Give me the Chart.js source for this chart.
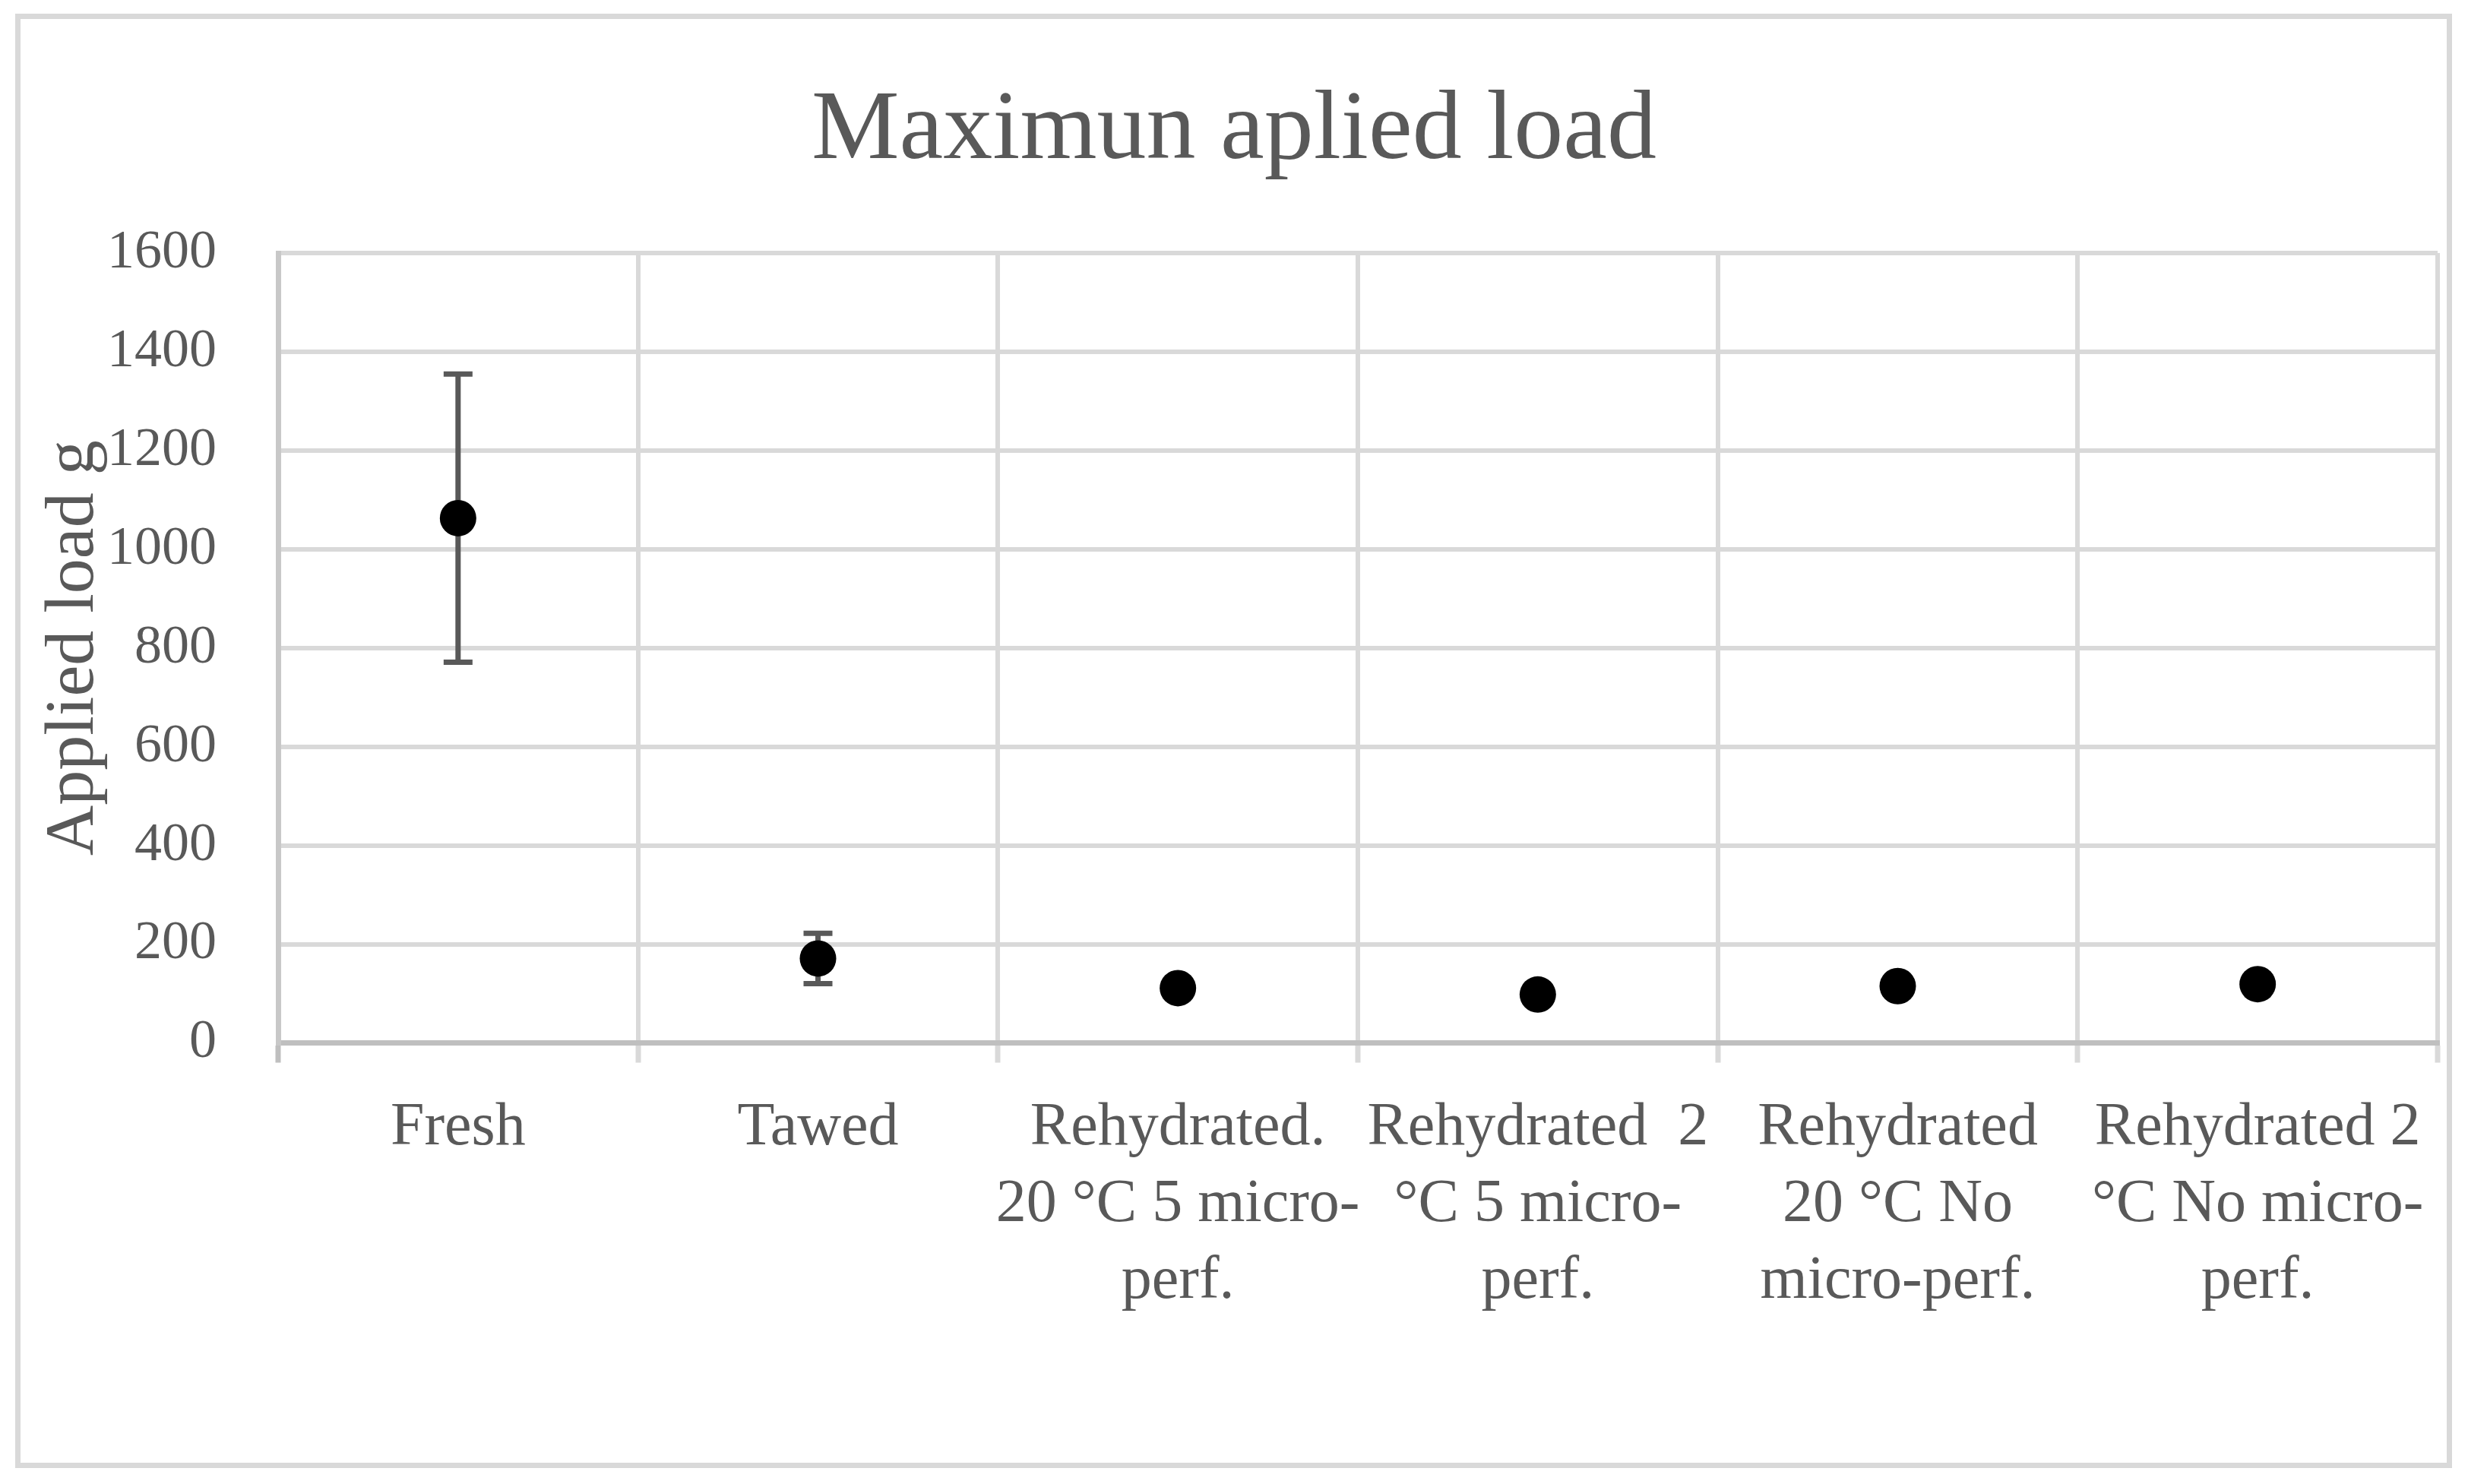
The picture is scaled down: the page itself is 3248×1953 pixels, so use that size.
<!DOCTYPE html>
<html>
<head>
<meta charset="utf-8">
<script src="https://cdn.jsdelivr.net/npm/chart.js@4"></script>
<style>
  html, body { margin: 0; padding: 0; background: #fff; }
  #wrap { position: absolute; left: 0; top: 0; width: 3248px; height: 1953px; }
  #frame { position: absolute; left: 20px; top: 18px; width: 3207px; height: 1914px;
           box-sizing: border-box; border: 7px solid #d9d9d9; pointer-events: none; }
</style>
</head>
<body>
<div id="wrap"><canvas id="chart"></canvas></div>
<div id="frame"></div>
<script>
const categories = [
    'Fresh',
    'Tawed',
    ['Rehydrated.', '20 °C 5 micro-', 'perf.'],
    ['Rehydrated  2', '°C 5 micro-', 'perf.'],
    ['Rehydrated', '20 °C No', 'micro-perf.'],
    ['Rehydrated 2', '°C No micro-', 'perf.']
]
const loadValues = [1063, 171, 111, 98, 115, 119]
const loadErrors = [292, 51, 0, 0, 0, 0]
const yTicks = [0, 200, 400, 600, 800, 1000, 1200, 1400, 1600]

const textColor = '#595959'
const fontFamily = '"Liberation Serif", "DejaVu Serif", serif'

// error bars, drawn under the points
const errorBars = {
    id: 'errorBars',
    beforeDatasetsDraw(chart) {
        const ctx = chart.ctx
        const y = chart.scales.y
        const meta = chart.getDatasetMeta(0)
        ctx.save()
        ctx.strokeStyle = '#595959'
        ctx.lineWidth = 7
        meta.data.forEach((pt, i) => {
            const err = loadErrors[i]
            if (!err) return
            const top = y.getPixelForValue(loadValues[i] + err)
            const bot = y.getPixelForValue(loadValues[i] - err)
            ctx.beginPath()
            ctx.moveTo(pt.x, top)
            ctx.lineTo(pt.x, bot)
            ctx.moveTo(pt.x - 19, top)
            ctx.lineTo(pt.x + 19, top)
            ctx.moveTo(pt.x - 19, bot)
            ctx.lineTo(pt.x + 19, bot)
            ctx.stroke()
        })
        ctx.restore()
    }
}

new Chart(document.getElementById('chart'), {
    type: 'line',
    data: {
        labels: categories,
        datasets: [{
            label: 'Applied load',
            data: loadValues,
            showLine: false,
            pointRadius: 24,
            pointHoverRadius: 24,
            pointBackgroundColor: '#000',
            pointBorderColor: '#000',
            pointBorderWidth: 0,
        }]
    },
    options: {
        responsive: true,
        maintainAspectRatio: false,
        animation: false,
        devicePixelRatio: 1,
        layout: { padding: { left: 40, right: 40, top: 0, bottom: 0 } },
        plugins: {
            legend: { display: false },
            tooltip: { enabled: false },
            title: {
                display: true,
                text: 'Maximun aplied load',
                color: textColor,
                font: { family: fontFamily, size: 130, weight: 'normal', lineHeight: 1.2 },
                padding: { top: 96, bottom: 81 }
            }
        },
        scales: {
            x: {
                offset: true,
                grid: {
                    offset: true,
                    color: '#d9d9d9',
                    lineWidth: 6,
                    drawTicks: true,
                    tickLength: 26,
                    tickWidth: 7,
                    tickColor: ctx => (ctx.index === 0 || ctx.index === categories.length) ? '#bfbfbf' : '#d9d9d9'
                },
                border: { display: true, color: '#bfbfbf', width: 7 },
                ticks: {
                    color: textColor,
                    autoSkip: false,
                    maxRotation: 0,
                    minRotation: 0,
                    padding: 36,
                    font: { family: fontFamily, size: 80, lineHeight: 1.26 }
                },
                afterFit(scale) { scale.height = 1953 - 1372.5 }
            },
            y: {
                min: 0,
                max: 1600,
                afterBuildTicks(scale) { scale.ticks = yTicks.map(v => ({ value: v })) },
                grid: { color: '#d9d9d9', lineWidth: 6, drawTicks: false },
                border: { display: true, color: '#c8c8c8', width: 7 },
                ticks: {
                    color: textColor,
                    padding: 81,
                    callback: v => String(v),
                    font: { family: fontFamily, size: 72, lineHeight: 1.2 }
                },
                title: {
                    display: true,
                    text: 'Applied load g',
                    color: textColor,
                    font: { family: fontFamily, size: 92, lineHeight: 1.2 },
                    padding: { top: 3, bottom: 0 }
                },
                afterFit(scale) { scale.width = 326 }
            }
        }
    },
    plugins: [errorBars]
});
</script>
</body>
</html>
